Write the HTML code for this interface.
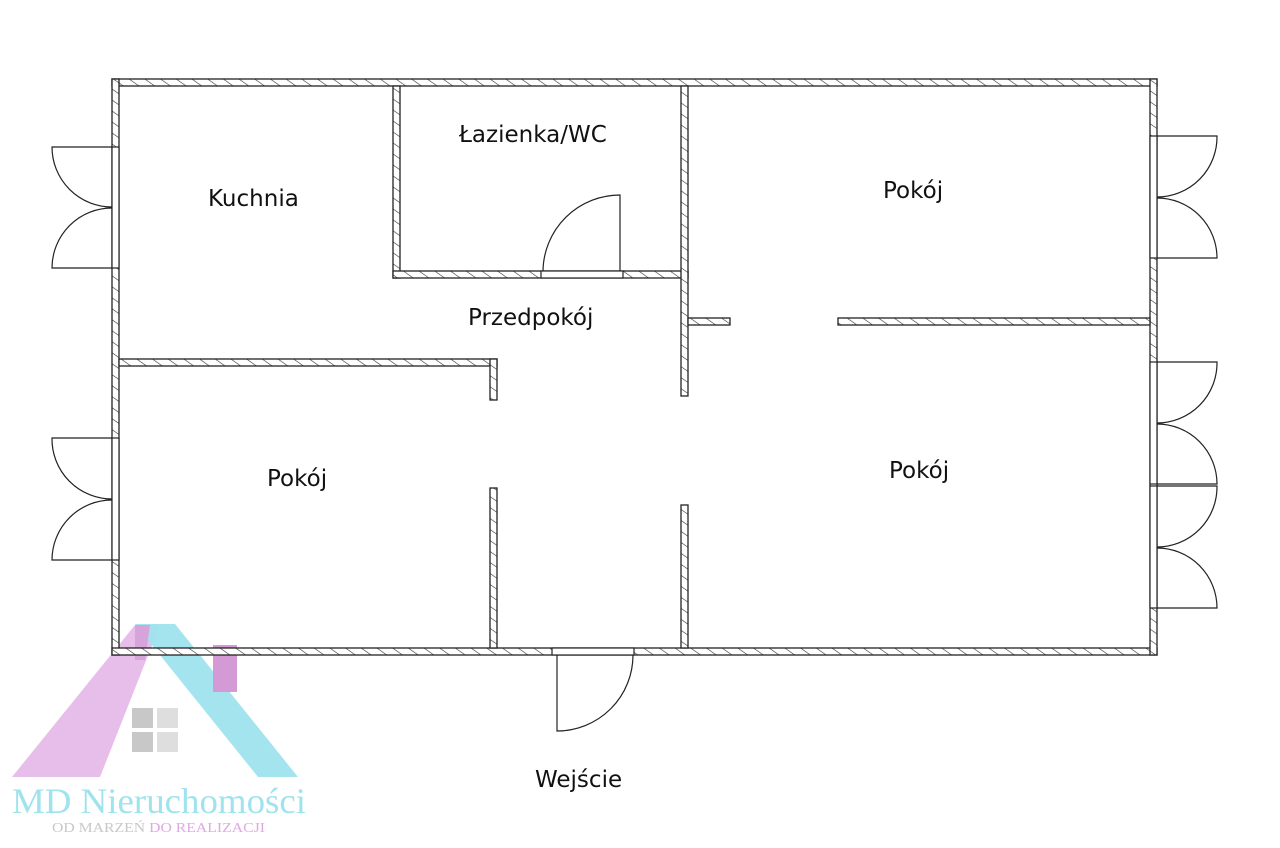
<!DOCTYPE html>
<html><head><meta charset="utf-8"><style>
html,body{margin:0;padding:0;background:#fff;width:1280px;height:848px;overflow:hidden}
svg{display:block}
text{font-family:"DejaVu Sans","Liberation Sans",sans-serif;fill:#111}
</style></head><body>
<svg width="1280" height="848" viewBox="0 0 1280 848" xmlns="http://www.w3.org/2000/svg">
<defs>
<pattern id="h" patternUnits="userSpaceOnUse" width="9" height="9" patternTransform="rotate(-55)">
<rect width="9" height="9" fill="#fff"/><line x1="0" y1="0" x2="0" y2="9" stroke="#333" stroke-width="1.2"/>
</pattern>
</defs>
<!-- logo background -->
<polygon points="12,777 100,777 160,625 135,625" fill="#e4b6e8" opacity="0.9"/>
<polygon points="135,624 175,624 298,777 258,777" fill="#9fe3ee" opacity="0.95"/>
<polygon points="135,625 150,625 145,660 135,660" fill="#d6a3db"/>
<rect x="213" y="645" width="24" height="47" fill="#d39ad6"/>
<rect x="132" y="708" width="21" height="20" fill="#c8c8c8"/>
<rect x="157" y="708" width="21" height="20" fill="#dedede"/>
<rect x="132" y="732" width="21" height="20" fill="#c8c8c8"/>
<rect x="157" y="732" width="21" height="20" fill="#dedede"/>
<g stroke="#222" stroke-width="1.3" fill="url(#h)">
<rect x="112" y="79" width="1045" height="7"/>
<rect x="112" y="79" width="7" height="576"/>
<rect x="112" y="648" width="1045" height="7"/>
<rect x="1150" y="79" width="7" height="576"/>
<rect x="119" y="359" width="378" height="7"/>
<rect x="490" y="359" width="7" height="41"/>
<rect x="490" y="488" width="7" height="160"/>
<rect x="393" y="86" width="7" height="192"/>
<rect x="393" y="271" width="295" height="7"/>
<rect x="681" y="86" width="7" height="310"/>
<rect x="681" y="505" width="7" height="143"/>
<rect x="688" y="318" width="42" height="7"/>
<rect x="838" y="318" width="312" height="7"/>
</g>
<g fill="#fff" stroke="#222" stroke-width="1.2">
<rect x="541" y="271" width="82" height="7"/>
<rect x="552" y="648" width="82" height="7"/>
<rect x="112" y="147" width="7" height="121"/>
<rect x="112" y="438" width="7" height="122"/>
<rect x="1150" y="136" width="7" height="122"/>
<rect x="1150" y="362" width="7" height="122"/>
<rect x="1150" y="486" width="7" height="122"/>
</g>
<g fill="none" stroke="#222" stroke-width="1.2">
<path d="M112,147 H52 A60,60 0 0 0 112,207"/>
<path d="M112,268 H52 A60,60 0 0 1 112,208"/>
<path d="M112,438 H52 A60,60 0 0 0 112,499"/>
<path d="M112,560 H52 A60,60 0 0 1 112,500"/>
<path d="M1157,136 H1217 A60,60 0 0 1 1157,197"/>
<path d="M1157,258 H1217 A60,60 0 0 0 1157,198"/>
<path d="M1157,362 H1217 A60,60 0 0 1 1157,423"/>
<path d="M1157,484 H1217 A60,60 0 0 0 1157,424"/>
<path d="M1157,486 H1217 A60,60 0 0 1 1157,547"/>
<path d="M1157,608 H1217 A60,60 0 0 0 1157,548"/>
<path d="M620,271 V195 A77,77 0 0 0 543,271"/>
<path d="M557,655 V731 A76,76 0 0 0 633,655"/>
</g>
<text x="459" y="142" font-size="23">Łazienka/WC</text>
<text x="208" y="206" font-size="23">Kuchnia</text>
<text x="883" y="198" font-size="23">Pokój</text>
<text x="468" y="325" font-size="23">Przedpokój</text>
<text x="267" y="486" font-size="23">Pokój</text>
<text x="889" y="478" font-size="23">Pokój</text>
<text x="535" y="787" font-size="23">Wejście</text>
<text x="12" y="813" font-size="36" textLength="294" lengthAdjust="spacingAndGlyphs" style="font-family:'Liberation Serif',serif;fill:#9fe3ee">MD Nieruchomości</text>
<text x="52" y="832" font-size="14" textLength="213" lengthAdjust="spacingAndGlyphs" style="font-family:'Liberation Serif',serif;fill:#c8c8c8">OD MARZEŃ <tspan style="fill:#e0a8e4">DO REALIZACJI</tspan></text>
</svg>
</body></html>
